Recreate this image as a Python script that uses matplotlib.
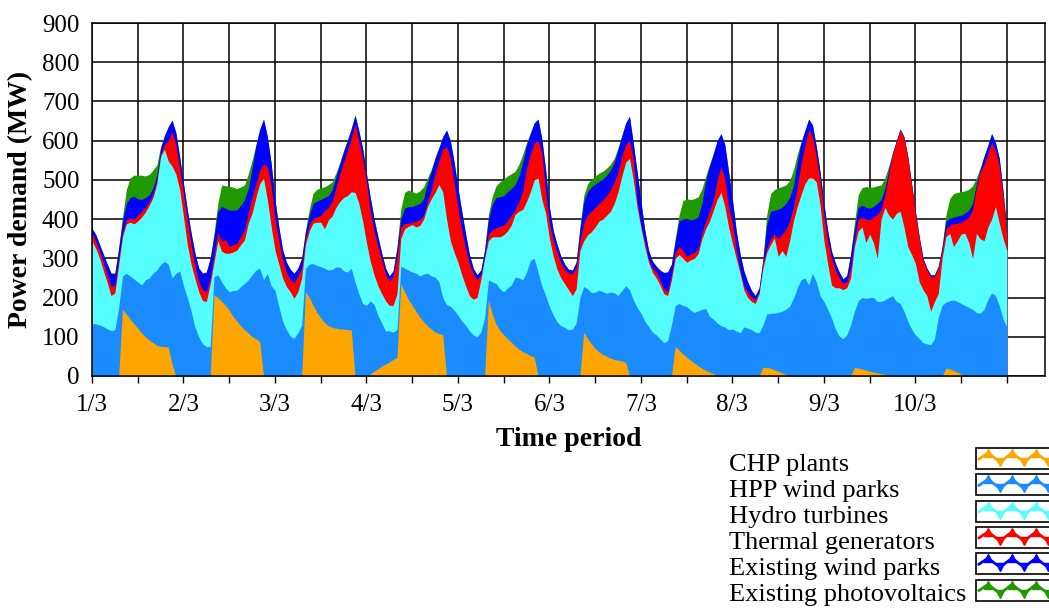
import numpy as np
import matplotlib.pyplot as plt
from matplotlib.patches import Rectangle
from matplotlib.lines import Line2D

plt.rcParams['font.family'] = ['Liberation Serif', 'DejaVu Serif']

# hourly dispatch, 1/3 00:00 to 11/3 00:00 (MW)
hours = np.arange(241)

chp = [
    0, 0, 0, 0, 0, 0, 0, 0, 170, 158, 145, 133, 122, 110, 100, 92, 85, 78, 76, 75, 74, 30, 0, 0,
    0, 0, 0, 0, 0, 0, 0, 0, 207, 200, 190, 180, 168, 152, 140, 128, 118, 110, 100, 95, 88, 0, 0, 0,
    0, 0, 0, 0, 0, 0, 0, 0, 215, 200, 180, 162, 148, 136, 128, 124, 122, 120, 120, 118, 118, 0, 0, 0,
    0, 5, 12, 18, 25, 30, 36, 42, 47, 235, 215, 195, 180, 165, 150, 138, 128, 120, 112, 108, 105, 0, 0, 0,
    0, 0, 0, 0, 0, 0, 0, 0, 194, 158, 132, 116, 105, 95, 86, 76, 68, 62, 57, 52, 48, 0, 0, 0,
    0, 0, 0, 0, 0, 0, 0, 0, 0, 112, 95, 82, 70, 62, 55, 50, 46, 42, 40, 38, 35, 0, 0, 0,
    0, 0, 0, 0, 0, 0, 0, 0, 0, 76, 66, 56, 48, 40, 33, 26, 20, 14, 10, 6, 0, 0, 0, 0,
    0, 0, 0, 0, 0, 0, 0, 0, 22, 22, 20, 16, 12, 8, 4, 0, 0, 0, 0, 0, 0, 0, 0, 0,
    0, 0, 0, 0, 0, 0, 0, 0, 22, 20, 18, 15, 12, 10, 8, 6, 4, 2, 0, 0, 0, 0, 0, 0,
    0, 0, 0, 0, 0, 0, 0, 0, 20, 18, 14, 10, 5, 0, 0, 0, 0, 0, 0, 0, 0, 0, 0, 0, 0,
]

hpp_wind = [
    134, 133, 130, 126, 120, 116, 118, 175, 85, 104, 110, 114, 118, 122, 145, 158, 177, 192, 209, 217, 211, 220, 262, 268,
    230, 200, 165, 125, 100, 82, 75, 75, 46, 58, 50, 45, 47, 66, 79, 100, 118, 135, 158, 175, 187, 245, 262, 230,
    219, 178, 140, 118, 102, 96, 110, 130, 60, 85, 107, 120, 131, 139, 142, 148, 156, 158, 148, 147, 157, 240, 210, 185,
    180, 187, 170, 137, 110, 85, 79, 70, 71, 45, 60, 75, 85, 97, 105, 122, 134, 135, 140, 132, 95, 182, 178, 168,
    155, 140, 130, 115, 105, 100, 112, 150, 51, 82, 104, 106, 110, 130, 146, 176, 182, 183, 208, 243, 252, 265, 230, 205,
    177, 155, 138, 128, 124, 118, 120, 135, 200, 116, 127, 131, 144, 157, 160, 161, 168, 170, 165, 180, 195, 220, 194, 175,
    160, 140, 126, 112, 105, 95, 85, 90, 130, 104, 119, 124, 129, 128, 129, 140, 150, 158, 142, 139, 135, 128, 125, 118,
    120, 115, 110, 125, 122, 118, 112, 110, 108, 136, 140, 144, 150, 157, 166, 178, 198, 225, 245, 250, 232, 262, 240, 205,
    190, 170, 148, 120, 102, 95, 105, 130, 143, 172, 182, 183, 188, 190, 182, 184, 190, 198, 205, 190, 185, 165, 140, 120,
    105, 95, 85, 82, 80, 95, 150, 180, 168, 174, 180, 180, 180, 180, 175, 170, 162, 160, 170, 195, 212, 205, 180, 145, 125,
]

hydro = [
    211, 192, 170, 142, 118, 89, 94, 110, 100, 126, 137, 141, 155, 173, 173, 185, 193, 220, 275, 286, 263, 285, 253, 207,
    176, 135, 120, 123, 115, 110, 115, 160, 37, 87, 78, 88, 98, 98, 102, 107, 111, 145, 157, 185, 215, 259, 187, 151,
    102, 107, 110, 110, 113, 102, 105, 120, 60, 85, 103, 110, 113, 100, 128, 136, 152, 167, 187, 195, 195, 228, 230, 210,
    160, 100, 76, 75, 75, 77, 65, 68, 92, 70, 100, 112, 121, 118, 129, 140, 170, 197, 216, 248, 270, 218, 167, 147,
    135, 118, 100, 90, 91, 100, 133, 150, 100, 115, 119, 133, 145, 145, 153, 160, 170, 180, 180, 175, 200, 240, 220, 210,
    173, 150, 134, 122, 111, 102, 85, 87, 120, 117, 138, 155, 166, 176, 185, 199, 206, 228, 265, 292, 315, 335, 306, 255,
    218, 190, 164, 153, 145, 137, 125, 115, 115, 120, 125, 120, 113, 128, 138, 146, 180, 204, 243, 278, 315, 340, 307, 262,
    218, 185, 152, 95, 78, 72, 73, 100, 145, 157, 175, 192, 143, 155, 135, 167, 197, 207, 217, 240, 273, 243, 255, 230,
    155, 115, 84, 105, 123, 125, 120, 120, 165, 178, 180, 142, 162, 140, 110, 210, 236, 210, 195, 225, 235, 215, 190, 190,
    182, 145, 135, 123, 85, 95, 60, 120, 167, 172, 136, 155, 177, 184, 165, 130, 202, 190, 175, 185, 188, 227, 210, 205, 195,
]

thermal = [
    20, 18, 18, 20, 20, 23, 20, 13, 10, 10, 10, 12, 15, 15, 12, 10, 10, 8, 6, 12, 52, 87, 75, 55,
    59, 60, 50, 32, 25, 28, 25, 15, 20, 20, 27, 35, 17, 19, 17, 20, 25, 25, 40, 35, 35, 36, 85, 102,
    79, 60, 45, 37, 30, 40, 40, 25, 15, 15, 12, 13, 18, 47, 32, 37, 50, 70, 90, 115, 135, 174, 160, 160,
    155, 128, 112, 100, 86, 68, 62, 75, 90, 30, 14, 7, 6, 15, 14, 10, 13, 23, 47, 60, 108, 185, 210, 175,
    140, 112, 95, 80, 64, 45, 13, 5, 17, 17, 23, 26, 25, 25, 25, 11, 25, 47, 85, 95, 95, 95, 120, 55,
    40, 40, 43, 38, 37, 42, 57, 53, 25, 45, 50, 52, 50, 45, 48, 50, 55, 55, 50, 50, 45, 45, 51, 15,
    7, 12, 8, 10, 15, 13, 12, 10, 13, 15, 20, 20, 15, 14, 15, 13, 15, 18, 25, 26, 50, 66, 68, 50,
    52, 20, 8, 10, 15, 10, 10, 5, 10, 10, 15, 10, 45, 42, 67, 50, 35, 48, 78, 95, 123, 105, 65, 65,
    65, 60, 68, 45, 25, 16, 15, 25, 15, 30, 25, 60, 36, 65, 112, 25, 30, 105, 165, 182, 207, 227, 227, 177,
    125, 108, 75, 65, 88, 63, 65, 20, 20, 21, 58, 45, 30, 34, 65, 125, 116, 170, 195, 185, 195, 143, 145, 105, 40,
]

wind_existing = [
    12, 17, 17, 22, 27, 34, 30, 27, 30, 42, 53, 58, 42, 30, 25, 17, 15, 14, 14, 22, 35, 30, 30, 28,
    26, 28, 29, 33, 35, 42, 50, 50, 45, 55, 87, 80, 93, 88, 85, 80, 77, 63, 75, 98, 103, 115, 76, 59,
    49, 35, 27, 25, 27, 24, 20, 25, 18, 25, 38, 41, 40, 33, 30, 30, 28, 25, 27, 25, 25, 23, 25, 25,
    20, 35, 30, 25, 17, 15, 13, 13, 25, 20, 39, 43, 40, 41, 42, 42, 47, 47, 40, 34, 32, 42, 45, 55,
    48, 50, 37, 25, 15, 13, 12, 17, 38, 66, 77, 76, 75, 75, 68, 65, 65, 73, 60, 53, 50, 55, 35, 55,
    40, 25, 20, 17, 13, 10, 8, 15, 30, 55, 60, 62, 60, 56, 54, 52, 50, 50, 58, 52, 55, 62, 42, 75,
    60, 30, 22, 18, 15, 25, 42, 50, 27, 30, 65, 80, 97, 88, 85, 81, 75, 104, 115, 117, 100, 84, 90, 90,
    60, 50, 42, 38, 25, 18, 10, 10, 10, 60, 70, 61, 75, 68, 68, 60, 55, 65, 55, 40, 27, 30, 25, 20,
    30, 25, 18, 18, 15, 12, 16, 35, 30, 30, 30, 30, 30, 27, 28, 25, 18, 10, 3, 3, 3, 3, 3, 3,
    8, 7, 5, 5, 5, 5, 5, 8, 20, 17, 17, 18, 18, 17, 18, 15, 10, 8, 20, 23, 23, 20, 20, 15, 10,
]

pv_existing = [
    0, 0, 0, 0, 0, 0, 0, 3, 10, 35, 50, 54, 60, 62, 55, 52, 45, 26, 5, 2, 1, 1, 0, 0,
    0, 0, 0, 0, 0, 0, 0, 0, 9, 20, 55, 57, 61, 58, 55, 47, 38, 37, 20, 2, 2, 0, 0, 0,
    0, 0, 0, 0, 0, 0, 0, 0, 4, 15, 26, 30, 30, 27, 28, 20, 10, 5, 3, 2, 1, 0, 0, 0,
    0, 0, 0, 0, 0, 0, 0, 0, 5, 25, 40, 42, 38, 30, 32, 30, 13, 5, 2, 0, 0, 0, 0, 0,
    0, 0, 0, 0, 0, 0, 0, 0, 12, 20, 30, 38, 42, 40, 38, 34, 30, 20, 5, 2, 0, 0, 0, 0,
    0, 0, 0, 0, 0, 0, 0, 0, 5, 15, 20, 20, 20, 21, 20, 18, 15, 10, 4, 2, 0, 0, 0, 0,
    0, 0, 0, 0, 0, 0, 0, 0, 0, 5, 15, 47, 50, 52, 52, 51, 37, 12, 5, 2, 0, 0, 0, 0,
    0, 0, 0, 0, 0, 0, 0, 0, 5, 25, 45, 52, 55, 53, 47, 43, 40, 20, 2, 0, 0, 0, 0, 0,
    0, 0, 0, 0, 0, 0, 0, 0, 15, 32, 45, 53, 53, 50, 45, 37, 27, 10, 2, 0, 0, 0, 0, 0,
    0, 0, 0, 0, 0, 0, 0, 2, 15, 50, 60, 60, 60, 57, 53, 45, 15, 2, 0, 0, 0, 0, 0, 0, 0,
]

names = ['CHP plants', 'HPP wind parks', 'Hydro turbines', 'Thermal generators',
         'Existing wind parks', 'Existing photovoltaics']
colors = ['#FFA500', '#1A8CFF', '#55FFFF', '#FF0000', '#0000FF', '#1F9A00']
day_labels = ['1/3', '2/3', '3/3', '4/3', '5/3', '6/3', '7/3', '8/3', '9/3', '10/3']

W, H = 1049, 610


def fx(px):
    return px / W


def fy(py):
    return 1 - py / H


fig = plt.figure(figsize=(W / 100, H / 100), dpi=100)
ax = fig.add_axes([fx(92), fy(376), (1045 - 92) / W, (376 - 23) / H])

# stacked areas: paint each cumulative level from zero, top layer first,
# so neighbouring layers meet without seams
series = np.vstack([chp, hpp_wind, hydro, thermal, wind_existing, pv_existing])
levels = np.cumsum(series, axis=0)
for k in reversed(range(len(names))):
    ax.fill_between(hours, 0, levels[k], color=colors[k], linewidth=0)

ax.set_xlim(0, 250)
ax.set_ylim(0, 900)
ticks = np.arange(0, 241, 12)
ax.set_xticks(ticks)
ax.set_xticklabels([day_labels[t // 24] if t % 24 == 0 and t < 240 else '' for t in ticks])
ax.set_yticks(np.arange(0, 901, 100))
ax.grid(True, color='black', linewidth=1.1)
ax.set_axisbelow(True)
for s in ax.spines.values():
    s.set_linewidth(1.1)
ax.tick_params(axis='x', direction='out', length=5, width=1, pad=8, labelsize=18)
ax.tick_params(axis='y', length=0, pad=9, labelsize=18)

ax.set_ylabel('Power demand (MW)', fontsize=20, fontweight='bold')
ax.yaxis.set_label_coords(-0.062, 0.5)
ax.set_xlabel('Time period', fontsize=20, fontweight='bold')
ax.xaxis.set_label_coords(0.5, -0.145)

# legend: labels on the left, swatch boxes on the right edge
for i, (name, c) in enumerate(zip(names, colors)):
    base = 470.5 + 26.0 * i
    fig.text(fx(729), fy(base), name, ha='left', va='baseline', fontsize=19)
    top = 448 + 26.3 * i
    fig.patches.append(Rectangle((fx(976), fy(top + 21)), (1060 - 976) / W, 21 / H,
                                 transform=fig.transFigure, facecolor='white',
                                 edgecolor='black', linewidth=1.2, clip_on=False))
    zx = [979, 988, 1000, 1012, 1024, 1036, 1048, 1060]
    zy = [top + 11, top + 5, top + 14, top + 5, top + 14, top + 5, top + 14, top + 5]
    fig.lines.append(Line2D([fx(v) for v in zx], [fy(v) for v in zy], color=c,
                            linewidth=2, transform=fig.transFigure))
    fig.lines.append(Line2D([fx(v) for v in zx[1::2]], [fy(v) for v in zy[1::2]],
                            linestyle='none', marker='^', markersize=6, color=c,
                            transform=fig.transFigure))
    fig.lines.append(Line2D([fx(v) for v in zx[2::2]], [fy(v) for v in zy[2::2]],
                            linestyle='none', marker='v', markersize=6, color=c,
                            transform=fig.transFigure))

fig.savefig('out.png', dpi=100)
